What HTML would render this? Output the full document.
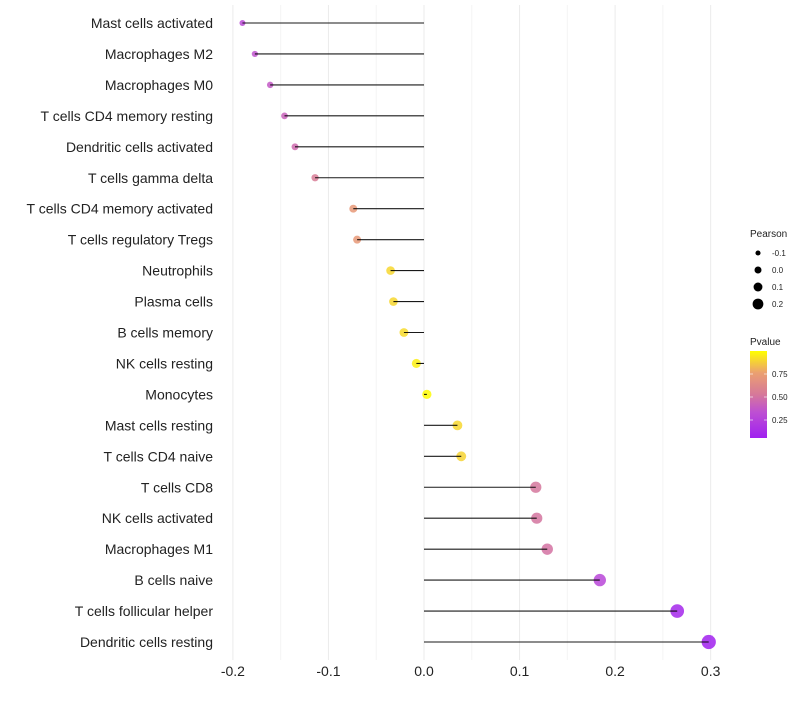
<!DOCTYPE html>
<html><head><meta charset="utf-8"><style>
body{margin:0;background:#fff;font-family:"Liberation Sans",sans-serif;}
svg text{font-family:"Liberation Sans",sans-serif;}
</style></head><body>
<svg id="chart" width="800" height="700" xmlns="http://www.w3.org/2000/svg"></svg>
<script>
const categories=["Mast cells activated","Macrophages M2","Macrophages M0","T cells CD4 memory resting","Dendritic cells activated","T cells gamma delta","T cells CD4 memory activated","T cells regulatory  Tregs ","Neutrophils","Plasma cells","B cells memory","NK cells resting","Monocytes","Mast cells resting","T cells CD4 naive","T cells CD8","NK cells activated","Macrophages M1","B cells naive","T cells follicular helper","Dendritic cells resting"];
const pearson=[-0.190,-0.177,-0.161,-0.146,-0.135,-0.114,-0.074,-0.070,-0.035,-0.032,-0.021,-0.008,0.003,0.035,0.039,0.117,0.118,0.129,0.184,0.265,0.298];
const pvalue=[0.30,0.35,0.38,0.42,0.46,0.55,0.72,0.72,0.90,0.90,0.91,0.96,0.99,0.90,0.89,0.52,0.51,0.50,0.28,0.10,0.06];
const xTicks=[-0.2,-0.1,0.0,0.1,0.2,0.3];
const xTickLabels=["-0.2","-0.1","0.0","0.1","0.2","0.3"];
const sizeLegend=[-0.1,0.0,0.1,0.2];
const colorTicks=[0.25,0.50,0.75];

const NS="http://www.w3.org/2000/svg";
const svg=document.getElementById('chart');
const x0=424,xs=955.5;
const xScale=v=>x0+v*xs;
const yScale=i=>23+i*30.95;
const rScale=v=>Math.max(1.5,4.6+8.5*v);
function lerp(a,b,t){return Math.round(a+(b-a)*t);}
const stops=[[0,[160,32,240]],[0.3,[190,80,210]],[0.5,[214,120,154]],[0.75,[235,160,112]],[1,[255,255,0]]];
function color(p){
  const t=Math.max(0,Math.min(1,(p-0.054)/(1-0.054)));
  let k=0;while(k<stops.length-2&&t>stops[k+1][0])k++;
  const a=stops[k],b=stops[k+1];
  const u=(t-a[0])/(b[0]-a[0]);
  return `rgb(${lerp(a[1][0],b[1][0],u)},${lerp(a[1][1],b[1][1],u)},${lerp(a[1][2],b[1][2],u)})`;
}
function el(tag,attrs,parent){const e=document.createElementNS(NS,tag);for(const k in attrs)e.setAttribute(k,attrs[k]);(parent||svg).appendChild(e);return e;}

for(let i=0;i<xTicks.length;i++){
  const g=el('line',{x1:xScale(xTicks[i]),x2:xScale(xTicks[i]),y1:5,y2:660,stroke:'#ebebeb','stroke-width':1});
  
  
  if(i<xTicks.length-1){
    const m=el('line',{x1:xScale((xTicks[i]+xTicks[i+1])/2),x2:xScale((xTicks[i]+xTicks[i+1])/2),y1:5,y2:660,stroke:'#f4f4f4','stroke-width':1});
    
    
  }
  const t=el('text',{x:xScale(xTicks[i]),y:676,'text-anchor':'middle','font-size':14,fill:'#222'});
  t.textContent=xTickLabels[i];
  
  
}
categories.forEach((c,i)=>{
  const y=yScale(i);
  const lab=el('text',{x:213,y:y+5,'text-anchor':'end','font-size':14,fill:'#222'});
  lab.textContent=c;
  
  
  const pt=el('circle',{cx:xScale(pearson[i]),cy:y,r:rScale(pearson[i]),fill:color(pvalue[i]),'fill-opacity':0.85});
  
  
  const ln=el('line',{x1:xScale(0),x2:xScale(pearson[i]),y1:y,y2:y,stroke:'#000','stroke-width':1.1,'stroke-opacity':0.9});
  
  
});
const lt=el('text',{x:750,y:237,'font-size':10,fill:'#222'});lt.textContent='Pearson';


sizeLegend.forEach((v,i)=>{
  const y=253+i*17;
  const c=el('circle',{cx:758,cy:y,r:3.5+v*9.5,fill:'#000'});
  
  
  const t=el('text',{x:772,y:y+3,'font-size':8,fill:'#222'});t.textContent=v.toFixed(1);
  
  
});
const ct=el('text',{x:750,y:345,'font-size':10,fill:'#222'});ct.textContent='Pvalue';


const defs=el('defs',{});
const lg=el('linearGradient',{id:'pg',x1:0,y1:1,x2:0,y2:0},defs);
for(let k=0;k<=20;k++){el('stop',{offset:k/20,'stop-color':color(0.054+k/20*(1-0.054))},lg);}
const bar=el('rect',{x:750,y:351,width:17,height:87,fill:'url(#pg)'});


colorTicks.forEach(v=>{
  const y=420-(v-0.25)*92;
  el('line',{x1:750,x2:753,y1:y,y2:y,stroke:'#fff','stroke-opacity':0.6});
  el('line',{x1:764,x2:767,y1:y,y2:y,stroke:'#fff','stroke-opacity':0.6});
  const t=el('text',{x:772,y:y+3,'font-size':8,fill:'#222'});t.textContent=v.toFixed(2);
  
  
});
</script>
</body></html>
